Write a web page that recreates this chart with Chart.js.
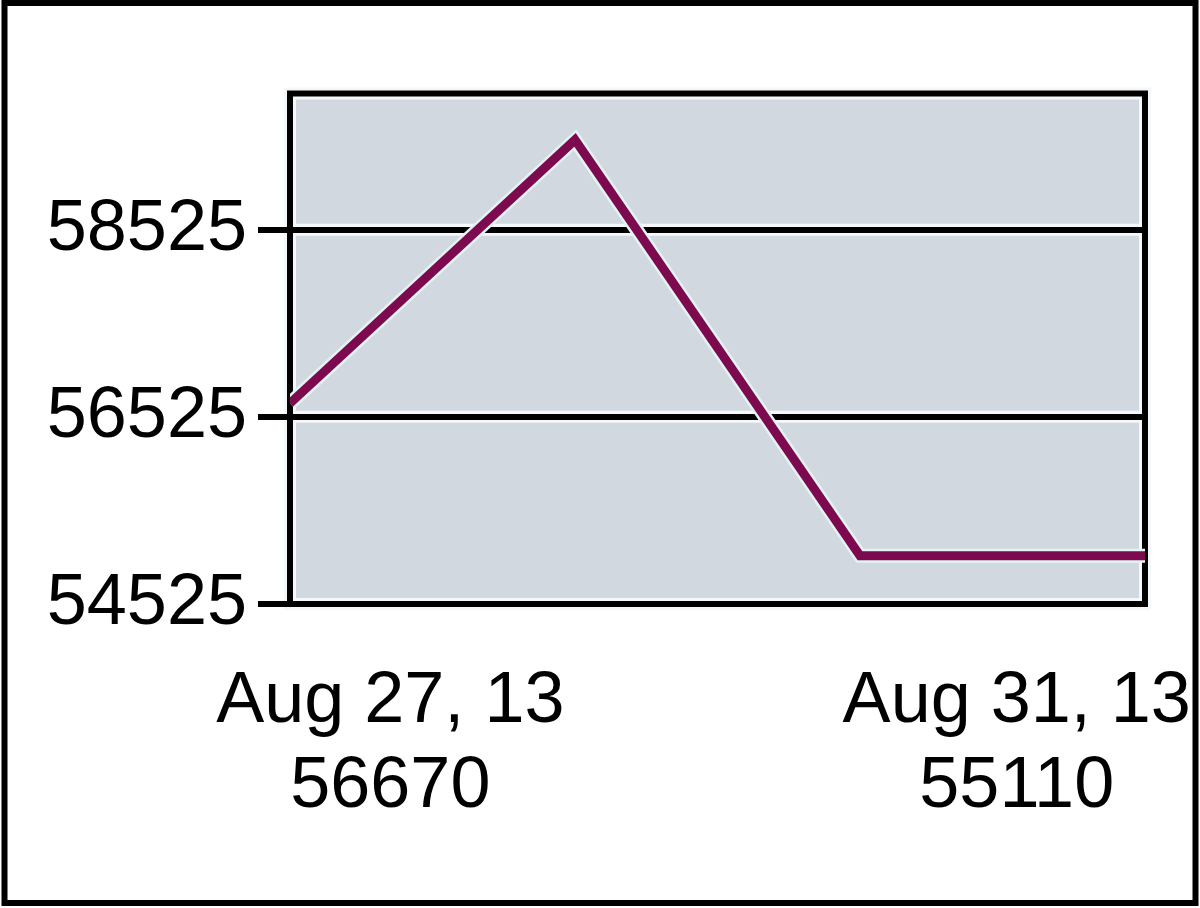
<!DOCTYPE html>
<html>
<head>
<meta charset="utf-8">
<script src="https://cdn.jsdelivr.net/npm/chart.js@4/dist/chart.umd.min.js"></script>
<style>
  html, body { margin: 0; padding: 0; background: #fff; }
  #wrap { width: 1200px; height: 908px; }
</style>
</head>
<body>
<div id="wrap"><canvas id="c" width="1200" height="908"></canvas></div>
<script>
// ---- data ----
const pointIndex = [0, 1, 2, 3];
const values = [56670, 59485, 55040, 55040];
const xLabelDates = ['Aug 27, 13', 'Aug 31, 13'];
const xLabelValues = ['56670', '55110'];
const yTicks = [54525, 56525, 58525];
const yMin = 54525;
const yMax = 59980;

const FONT = '"Liberation Sans", Arial, sans-serif';

const decor = {
  id: 'decor',
  beforeDraw(chart) {
    const ctx = chart.ctx;
    const a = chart.chartArea;
    ctx.save();
    ctx.fillStyle = '#ffffff';
    ctx.fillRect(0, 0, chart.width, chart.height);
    // outer frame
    ctx.strokeStyle = '#000';
    ctx.lineWidth = 6;
    ctx.strokeRect(4.5, 3, 1191, 900);
    // plot background
    ctx.fillStyle = '#d2d8df';
    ctx.fillRect(a.left, a.top, a.right - a.left, a.bottom - a.top);
    // white highlight bands next to grid lines
    const ys = chart.scales.y;
    ctx.strokeStyle = '#f4f8fa';
    ctx.lineWidth = 12;
    yTicks.forEach(v => {
      const y = ys.getPixelForValue(v);
      ctx.beginPath();
      ctx.moveTo(a.left, y);
      ctx.lineTo(a.right, y);
      ctx.stroke();
    });
    ctx.strokeRect(a.left, a.top, a.right - a.left, a.bottom - a.top);
    ctx.strokeStyle = '#000';
    ctx.lineWidth = 6;
    ctx.strokeRect(a.left, a.top, a.right - a.left, a.bottom - a.top);
    ctx.restore();
  },
  beforeDatasetsDraw(chart) {
    const ctx = chart.ctx;
    const pts = chart.getDatasetMeta(0).data;
    const a = chart.chartArea;
    ctx.save();
    ctx.beginPath();
    ctx.rect(a.left, a.top, a.right - a.left + 4, a.bottom - a.top);
    ctx.clip();
    ctx.strokeStyle = '#e3f3f3';
    ctx.lineWidth = 14;
    ctx.lineJoin = 'miter';
    ctx.beginPath();
    pts.forEach((p, i) => { if (i === 0) ctx.moveTo(p.x, p.y); else ctx.lineTo(p.x, p.y); });
    ctx.stroke();
    ctx.restore();
  }
};

new Chart(document.getElementById('c'), {
  type: 'line',
  data: {
    datasets: [{
      data: pointIndex.map((x, i) => ({ x: x, y: values[i] })),
      borderColor: '#7d0a4e',
      borderWidth: 9,
      pointRadius: 0,
      tension: 0,
      fill: false,
      borderJoinStyle: 'miter',
      clip: { left: 0, top: 0, right: 4, bottom: 0 }
    }]
  },
  options: {
    responsive: false,
    animation: false,
    devicePixelRatio: 1,
    layout: { padding: { left: 0, right: 55, top: 93.5, bottom: 0 } },
    plugins: { legend: { display: false }, tooltip: { enabled: false } },
    scales: {
      x: {
        type: 'linear',
        min: 0,
        max: 3,
        grid: { display: false },
        border: { display: false },
        afterBuildTicks(scale) {
          scale.ticks = [{ value: 0.352 }, { value: 2.55 }];
        },
        afterFit(scale) {
          scale.height = 304;
          scale.paddingLeft = 0;
          scale.paddingRight = 0;
        },
        ticks: {
          autoSkip: false,
          maxRotation: 0,
          padding: 48,
          color: '#000',
          font: { family: FONT, size: 72, lineHeight: 1.18 },
          callback(value, index) { return [xLabelDates[index], xLabelValues[index]]; }
        }
      },
      y: {
        min: yMin,
        max: yMax,
        afterBuildTicks(scale) {
          scale.ticks = yTicks.map(v => ({ value: v }));
        },
        afterFit(scale) {
          scale.width = 290;
          scale.paddingTop = 0;
          scale.paddingBottom = 0;
        },
        grid: {
          color: '#000',
          lineWidth: 6,
          tickLength: 32,
          drawOnChartArea: true
        },
        border: { display: false },
        ticks: {
          padding: 11,
          color: '#000',
          font: { family: FONT, size: 72 },
          callback(v) { return String(v); }
        }
      }
    }
  },
  plugins: [decor]
});
</script>
</body>
</html>
